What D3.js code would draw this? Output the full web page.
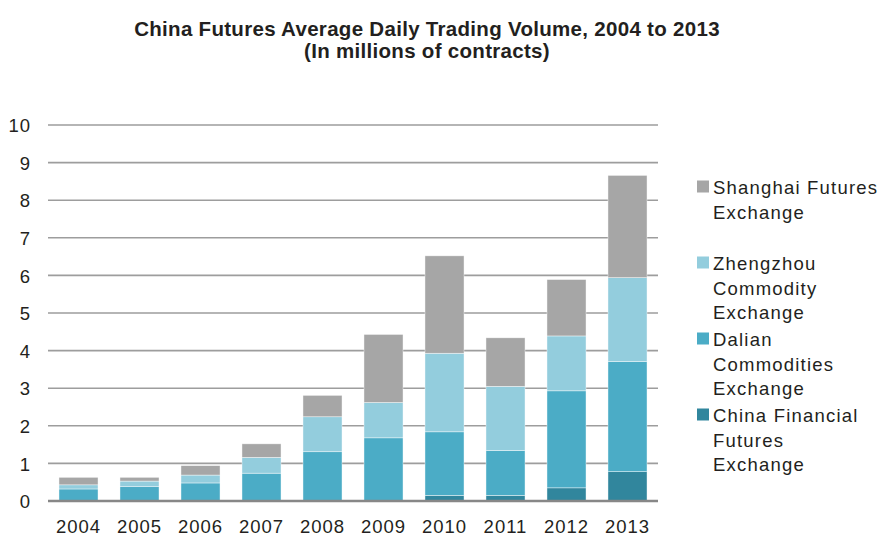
<!DOCTYPE html>
<html>
<head>
<meta charset="utf-8">
<script src="https://cdn.jsdelivr.net/npm/d3@7"></script>
<style>
  html, body { margin: 0; padding: 0; background: #fff; }
  svg { display: block; }
  text { font-family: "Liberation Sans", Arial, sans-serif; fill: #231f20; }
</style>
</head>
<body>
<svg id="chart" width="882" height="536"></svg>
<script>
// ---- data ----
const years = ["2004","2005","2006","2007","2008","2009","2010","2011","2012","2013"];
const seriesNames = ["China Financial Futures Exchange", "Dalian Commodities Exchange", "Zhengzhou Commodity Exchange", "Shanghai Futures Exchange"];
const cffex     = [0, 0, 0, 0, 0, 0, 0.15, 0.15, 0.35, 0.78];
const dalian    = [0.32, 0.38, 0.48, 0.74, 1.31, 1.68, 1.69, 1.19, 2.58, 2.93];
const zhengzhou = [0.11, 0.15, 0.21, 0.42, 0.93, 0.94, 2.09, 1.71, 1.46, 2.23];
const shanghai  = [0.20, 0.10, 0.25, 0.36, 0.57, 1.81, 2.59, 1.29, 1.50, 2.72];
const yTicks = [0,1,2,3,4,5,6,7,8,9,10];
const titleLines = ["China Futures Average Daily Trading Volume, 2004 to 2013", "(In millions of contracts)"];
// legend order (top to bottom) and wrapped lines
const legendOrder = ["Shanghai Futures Exchange", "Zhengzhou Commodity Exchange", "Dalian Commodities Exchange", "China Financial Futures Exchange"];
const legendLines = [["Shanghai Futures","Exchange"],["Zhengzhou","Commodity","Exchange"],["Dalian","Commodities","Exchange"],["China Financial","Futures","Exchange"]];

// ---- build ----
const colors = {
  "China Financial Futures Exchange": "#31869d",
  "Dalian Commodities Exchange": "#4bacc6",
  "Zhengzhou Commodity Exchange": "#93cddd",
  "Shanghai Futures Exchange": "#a6a6a6"
};
const valuesBy = {
  "China Financial Futures Exchange": cffex,
  "Dalian Commodities Exchange": dalian,
  "Zhengzhou Commodity Exchange": zhengzhou,
  "Shanghai Futures Exchange": shanghai
};
const table = years.map((y, i) => {
  const row = { year: y };
  seriesNames.forEach(s => row[s] = valuesBy[s][i]);
  return row;
});
const stacked = d3.stack().keys(seriesNames)(table);

const svg = d3.select("#chart");
const x = d3.scaleBand().domain(years).range([48, 658]).paddingInner(0.36).paddingOuter(0.18);
const y = d3.scaleLinear().domain([0, 10]).range([501, 125]);

// title
svg.append("g").selectAll("text").data(titleLines).join("text")
  .attr("x", 427).attr("y", (d, i) => 36 + i * 22)
  .attr("text-anchor", "middle")
  .style("font-size", "20.5px").style("font-weight", "bold")
  .style("letter-spacing", "0.3px")
  .text(d => d);

// gridlines
svg.append("g").selectAll("line").data(yTicks.filter(t => t > 0)).join("line")
  .attr("x1", 48).attr("x2", 658)
  .attr("y1", d => y(d)).attr("y2", d => y(d))
  .attr("stroke", "#9d9d9d").attr("stroke-width", 1.6);

// y axis labels
const yAxis = d3.axisLeft(y).tickValues(yTicks).tickSize(0).tickPadding(0).tickFormat(d3.format("d"));
const gy = svg.append("g").attr("transform", "translate(31,0)").call(yAxis);
gy.select(".domain").remove();
gy.selectAll("text").style("font-size", "18.5px").style("letter-spacing", "1px")
  .attr("fill", "#231f20").attr("dy", "0.36em").style("font-family", '"Liberation Sans", Arial, sans-serif');

// bars
svg.append("g").selectAll("g").data(stacked).join("g")
  .attr("fill", d => colors[d.key])
  .selectAll("rect").data(d => d).join("rect")
  .attr("x", d => x(d.data.year))
  .attr("width", x.bandwidth())
  .attr("y", d => y(d[1]))
  .attr("height", d => y(d[0]) - y(d[1]))
  .attr("stroke", "#ffffff").attr("stroke-width", 0.6).attr("stroke-opacity", 0.7);

// baseline
svg.append("line").attr("x1", 48).attr("x2", 658).attr("y1", y(0)).attr("y2", y(0))
  .attr("stroke", "#878787").attr("stroke-width", 2.6);

// x axis labels
const xAxis = d3.axisBottom(x).tickSize(0).tickPadding(0);
const gx = svg.append("g").attr("transform", "translate(0,532.5)").call(xAxis);
gx.select(".domain").remove();
gx.selectAll("text").attr("dy", 0).attr("y", 0).style("font-size", "18.5px").style("letter-spacing", "1px")
  .attr("fill", "#231f20").style("font-family", '"Liberation Sans", Arial, sans-serif');

// legend
const leg = svg.append("g").selectAll("g").data(legendOrder).join("g")
  .attr("transform", (d, i) => `translate(697,${194 + i * 76})`);
leg.append("rect").attr("x", 0).attr("y", -13.5).attr("width", 12).attr("height", 12)
  .attr("fill", d => colors[d]);
leg.append("text").attr("x", 16).attr("y", 0)
  .style("font-size", "18.5px").style("letter-spacing", "1.2px")
  .selectAll("tspan").data((d, i) => legendLines[i]).join("tspan")
  .attr("x", 16).attr("y", (d, j) => j * 24.5)
  .text(d => d);
</script>
</body>
</html>
